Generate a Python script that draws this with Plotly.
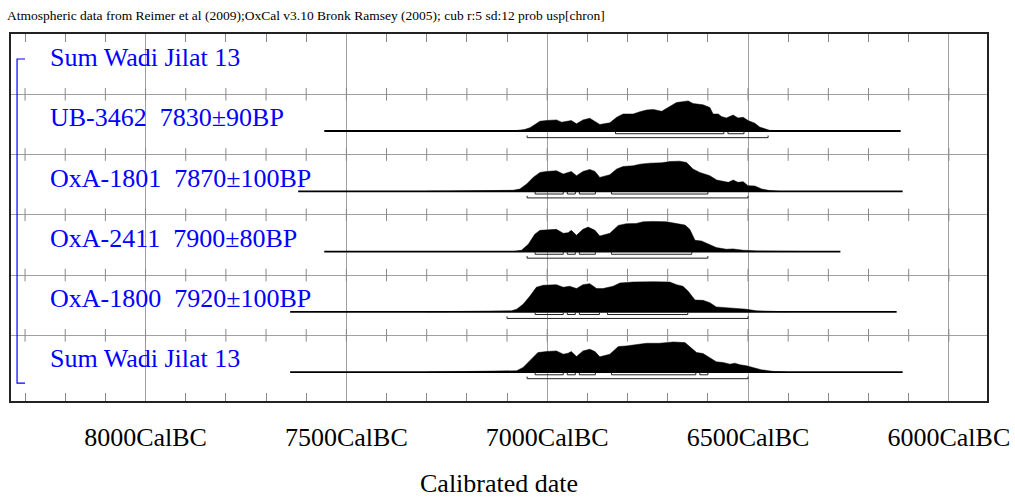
import plotly.graph_objects as go

# ---------------- data (cal BC) ----------------
header = "Atmospheric data from Reimer et al (2009);OxCal v3.10 Bronk Ramsey (2005); cub r:5 sd:12 prob usp[chron]"
row_labels = ["Sum Wadi Jilat 13", "UB-3462\u00a0 7830±90BP", "OxA-1801\u00a0 7870±100BP",
              "OxA-2411\u00a0 7900±80BP", "OxA-1800\u00a0 7920±100BP", "Sum Wadi Jilat 13"]
tick_years = [8000, 7500, 7000, 6500, 6000]
tick_text = ["8000CalBC", "7500CalBC", "7000CalBC", "6500CalBC", "6000CalBC"]

ub_span = [7555, 6120]
ub_years = [7085, 7068, 7056, 7043, 7031, 7018, 7002, 6977, 6964, 6948, 6940, 6927, 6911, 6894, 6881,
            6869, 6844, 6827, 6811, 6786, 6769, 6753, 6736, 6715, 6699, 6678, 6649, 6637, 6612, 6595,
            6587, 6574, 6566, 6554, 6537, 6525, 6512, 6500, 6483, 6471, 6446, 6421]
ub_prob = [0, 2, 5, 10, 20, 30, 32, 34, 27, 29, 32, 22, 34, 39, 30, 20, 25, 42, 52, 52, 59, 64, 66, 60,
           72, 87, 92, 84, 80, 72, 52, 52, 44, 40, 49, 40, 42, 32, 24, 12, 2, 0]
ub_r68 = [(6830, 6560), (6550, 6510)]
ub_r95 = [(7050, 6450)]

a1801_span = [7620, 6115]
a1801_years = [7300, 7168, 7130, 7100, 7085, 7068, 7051, 7035, 7018, 7002, 6977, 6960, 6948, 6940, 6927,
               6911, 6894, 6881, 6869, 6844, 6827, 6811, 6786, 6769, 6744, 6715, 6695, 6670, 6653, 6637,
               6620, 6595, 6578, 6562, 6549, 6537, 6525, 6512, 6500, 6483, 6466, 6446, 6421]
a1801_prob = [0, 0.5, 2.5, 3, 3, 7, 22, 42, 57, 60, 62, 52, 57, 60, 47, 60, 66, 60, 42, 50, 67, 75, 77,
              82, 85, 86, 90, 91, 87, 67, 57, 47, 34, 30, 27, 34, 27, 29, 17, 16, 7, 2, 0]
a1801_r68 = [(7030, 6960), (6950, 6930), (6920, 6880), (6840, 6600)]
a1801_r95 = [(7050, 6500)]

a2411_span = [7555, 6270]
a2411_years = [7085, 7064, 7047, 7031, 7018, 7002, 6977, 6960, 6948, 6940, 6927, 6911, 6898, 6881, 6869,
               6844, 6823, 6803, 6778, 6761, 6736, 6703, 6691, 6670, 6657, 6645, 6632, 6616, 6595, 6579,
               6554, 6537, 6512, 6479, 6420, 6350]
a2411_prob = [0, 4, 22, 52, 64, 65, 67, 55, 57, 64, 49, 67, 74, 64, 47, 55, 79, 84, 85, 90, 91, 90, 87,
              82, 80, 67, 34, 32, 20, 12, 7, 8, 4, 2, 1, 0]
a2411_r68 = [(7030, 6960), (6950, 6930), (6920, 6880), (6840, 6640)]
a2411_r95 = [(7050, 6600)]

a1800_span = [7640, 6130]
a1800_years = [7300, 7168, 7135, 7110, 7089, 7076, 7060, 7043, 7027, 7010, 6977, 6960, 6944, 6927, 6911,
               6894, 6877, 6861, 6836, 6819, 6786, 6736, 6695, 6678, 6662, 6649, 6632, 6612, 6595, 6579,
               6554, 6529, 6504, 6479, 6446, 6400]
a1800_prob = [0, 2, 4.5, 4.5, 3, 8, 23, 48, 75, 81, 83, 75, 78, 71, 83, 86, 71, 71, 78, 88, 91, 92, 91,
              83, 78, 63, 36, 35, 28, 15, 13, 11, 8, 3, 1, 0]
a1800_r68 = [(7030, 6960), (6950, 6930), (6920, 6870), (6850, 6650)]
a1800_r95 = [(7100, 6500)]

sum_span = [7640, 6115]
sum_years = [7300, 7168, 7076, 7060, 7043, 7023, 7002, 6977, 6960, 6948, 6940, 6927, 6911, 6894, 6881,
             6869, 6844, 6823, 6803, 6778, 6753, 6720, 6686, 6657, 6645, 6628, 6612, 6595, 6579, 6562,
             6545, 6533, 6520, 6504, 6487, 6467, 6437, 6404]
sum_prob = [0, 2, 4, 14, 36, 59, 62, 64, 54, 57, 62, 47, 64, 69, 62, 46, 54, 77, 79, 84, 87, 87, 91, 89,
            77, 59, 56, 44, 31, 29, 24, 27, 22, 19, 14, 7, 2, 0]
sum_r68 = [(7030, 6960), (6950, 6930), (6920, 6880), (6840, 6630), (6620, 6600)]
sum_r95 = [(7050, 6500)]

# ---------------- layout constants ----------------
W, H = 1015, 497
ML, MR, MT, MB = 11, 28, 34, 96
PW, PH = W - ML - MR, H - MT - MB
ROW_TOPS = [6, 5, 4, 3, 2, 1]
BASE_OFF = 0.61     # baseline below row top
PEAK_H = 0.5        # max height of a distribution
R68_OFF = 0.045
R95_OFF = 0.11
END_TICK = 0.035
FONT = "Liberation Serif"
BLUE = "#0000ff"
GRID = "#a0a0a0"

samples = [
    (ub_span, ub_years, ub_prob, ub_r68, ub_r95),
    (a1801_span, a1801_years, a1801_prob, a1801_r68, a1801_r95),
    (a2411_span, a2411_years, a2411_prob, a2411_r68, a2411_r95),
    (a1800_span, a1800_years, a1800_prob, a1800_r68, a1800_r95),
    (sum_span, sum_years, sum_prob, sum_r68, sum_r95),
]

fig = go.Figure()

for i, (span, yrs, prob, r68, r95) in enumerate(samples):
    base = ROW_TOPS[i + 1] - BASE_OFF
    pmax = max(prob)
    xs = [yrs[0]] + yrs + [yrs[-1]]
    ys = [base] + [base + p / pmax * PEAK_H for p in prob] + [base]
    fig.add_trace(go.Scatter(x=xs, y=ys, mode="lines", fill="toself", fillcolor="black",
                             line=dict(color="black", width=0.5), hoverinfo="skip", showlegend=False))
    fig.add_trace(go.Scatter(x=span, y=[base, base], mode="lines",
                             line=dict(color="black", width=1.8), hoverinfo="skip", showlegend=False))
    for ranges, off in ((r68, R68_OFF), (r95, R95_OFF)):
        bx, by = [], []
        for a, b in ranges:
            yl = base - off
            bx += [a, a, b, b, None]
            by += [yl + END_TICK, yl, yl, yl + END_TICK, None]
        fig.add_trace(go.Scatter(x=bx, y=by, mode="lines", line=dict(color="#222222", width=1),
                                 hoverinfo="skip", showlegend=False))

# tick marks on the inner horizontal lines
minor_years = list(range(8300, 5899, -100))
tx, ty = [], []
for line_y in [1, 2, 3, 4, 5]:
    for yv in minor_years:
        tx.append(yv)
        ty.append(line_y)
fig.add_trace(go.Scatter(x=tx, y=ty, mode="markers",
                         marker=dict(symbol="line-ns", size=9, line=dict(color="#888888", width=1)),
                         hoverinfo="skip", showlegend=False))

# row labels
for i, lab in enumerate(row_labels):
    fig.add_annotation(x=0.038, xref="paper", xanchor="left", y=ROW_TOPS[i] - 0.39, yref="y",
                       yanchor="middle", text=lab, showarrow=False,
                       font=dict(family=FONT, size=26, color=BLUE))

# header and axis title
fig.add_annotation(x=(5 - ML) / PW, xref="paper", xanchor="left", y=1 + (MT - 15) / PH, yref="paper",
                   text=header, showarrow=False, yanchor="middle",
                   font=dict(family=FONT, size=13.5, color="black"))
fig.add_annotation(x=0.5, xref="paper", xanchor="center", y=(401 - 483) / PH, yref="paper",
                   yanchor="middle", text="Calibrated date", showarrow=False,
                   font=dict(family=FONT, size=26, color="black"))

# blue bracket
fig.add_shape(type="path", xref="paper", yref="y",
              path="M 0.0144 5.585 L 0.0062 5.585 L 0.0062 0.208 L 0.0144 0.208",
              line=dict(color=BLUE, width=1.2))

fig.update_layout(
    width=W, height=H,
    margin=dict(l=ML, r=MR, t=MT, b=MB, autoexpand=False),
    paper_bgcolor="white", plot_bgcolor="white",
    xaxis=dict(range=[8335, 5905], tickmode="array", tickvals=tick_years, ticktext=tick_text,
               automargin=False,
               showgrid=True, gridcolor=GRID, gridwidth=1.2, zeroline=False,
               showline=True, linecolor="#222222", linewidth=1.5, mirror="allticks",
               ticks="inside", ticklen=8, tickcolor=GRID, ticklabelstandoff=12,
               tickfont=dict(family=FONT, size=26, color="black"),
               minor=dict(tickmode="linear", tick0=8000, dtick=100, ticks="inside", ticklen=8,
                          tickcolor="#888888", showgrid=False)),
    yaxis=dict(range=[-0.09, 6], tickmode="array", tickvals=[1, 2, 3, 4, 5], showticklabels=False,
               automargin=False,
               showgrid=True, gridcolor=GRID, gridwidth=1.2, zeroline=False, ticks="",
               showline=True, linecolor="#222222", linewidth=1.5, mirror=True),
)

fig.write_html("out.html")
